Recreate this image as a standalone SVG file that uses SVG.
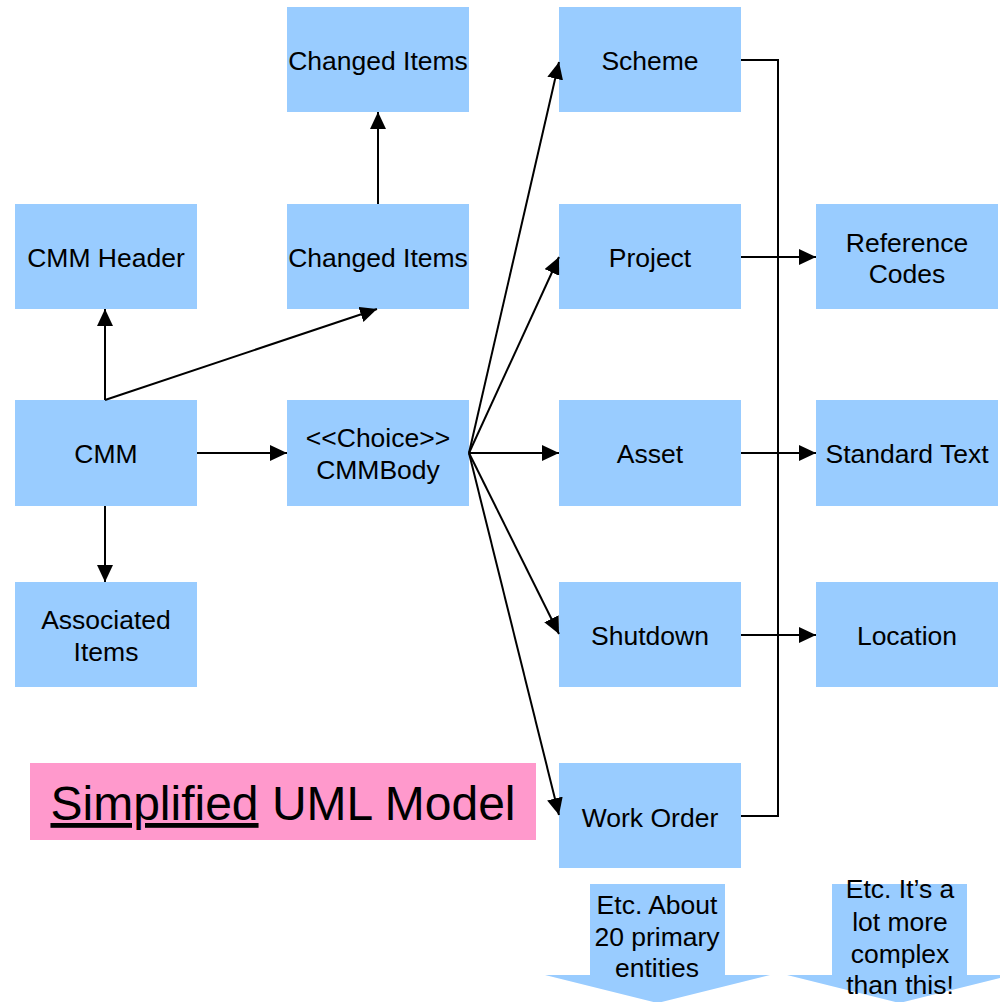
<svg xmlns="http://www.w3.org/2000/svg" width="1000" height="1002" viewBox="0 0 1000 1002">
  <defs>
    <style>
      .box { fill: #99CCFF; }
      .lbl { font-family: "Liberation Sans", Arial, sans-serif; font-size: 26.5px; fill: #000; text-anchor: middle; }
      .conn { stroke: #000; stroke-width: 2; fill: none; }
      .title { font-family: "Liberation Sans", Arial, sans-serif; font-size: 48px; fill: #000; text-anchor: middle; }
    </style>
    <marker id="arrow" markerUnits="userSpaceOnUse" markerWidth="17" markerHeight="16" refX="17" refY="8" orient="auto">
      <path d="M0,0 L17,8 L0,16 z" fill="#000"/>
    </marker>
  </defs>

  <rect x="0" y="0" width="1000" height="1002" fill="#fff"/>

  <!-- nodes -->
  <g id="node-changed-items-top">
    <rect class="box" x="287" y="7" width="182" height="105"/>
    <text class="lbl" x="378" y="70">Changed Items</text>
  </g>
  <g id="node-cmm-header">
    <rect class="box" x="15" y="204" width="182" height="105"/>
    <text class="lbl" x="106" y="267">CMM Header</text>
  </g>
  <g id="node-changed-items">
    <rect class="box" x="287" y="204" width="182" height="105"/>
    <text class="lbl" x="378" y="267">Changed Items</text>
  </g>
  <g id="node-cmm">
    <rect class="box" x="15" y="400" width="182" height="106"/>
    <text class="lbl" x="106" y="463">CMM</text>
  </g>
  <g id="node-cmmbody">
    <rect class="box" x="287" y="400" width="182" height="106"/>
    <text class="lbl" x="378" y="447">&lt;&lt;Choice&gt;&gt;</text>
    <text class="lbl" x="378" y="479">CMMBody</text>
  </g>
  <g id="node-associated-items">
    <rect class="box" x="15" y="582" width="182" height="105"/>
    <text class="lbl" x="106" y="629">Associated</text>
    <text class="lbl" x="106" y="661">Items</text>
  </g>
  <g id="node-scheme">
    <rect class="box" x="559" y="7" width="182" height="105"/>
    <text class="lbl" x="650" y="70">Scheme</text>
  </g>
  <g id="node-project">
    <rect class="box" x="559" y="204" width="182" height="105"/>
    <text class="lbl" x="650" y="267">Project</text>
  </g>
  <g id="node-asset">
    <rect class="box" x="559" y="400" width="182" height="106"/>
    <text class="lbl" x="650" y="463">Asset</text>
  </g>
  <g id="node-shutdown">
    <rect class="box" x="559" y="582" width="182" height="105"/>
    <text class="lbl" x="650" y="645">Shutdown</text>
  </g>
  <g id="node-work-order">
    <rect class="box" x="559" y="763" width="182" height="105"/>
    <text class="lbl" x="650" y="827">Work Order</text>
  </g>
  <g id="node-reference-codes">
    <rect class="box" x="816" y="204" width="182" height="105"/>
    <text class="lbl" x="907" y="252">Reference</text>
    <text class="lbl" x="907" y="283">Codes</text>
  </g>
  <g id="node-standard-text">
    <rect class="box" x="816" y="400" width="182" height="106"/>
    <text class="lbl" x="907" y="463">Standard Text</text>
  </g>
  <g id="node-location">
    <rect class="box" x="816" y="582" width="182" height="105"/>
    <text class="lbl" x="907" y="645">Location</text>
  </g>

  <!-- caption -->
  <g id="caption">
    <rect x="30" y="763" width="506" height="77" fill="#FF99CC"/>
    <text class="title" x="283" y="820"><tspan text-decoration="underline">Simplified</tspan> UML Model</text>
  </g>

  <!-- block arrows -->
  <g id="etc-entities">
    <path d="M590,884 L725,884 L725,975 L770,975 L657.5,1003 L545,975 L590,975 z" fill="#99CCFF"/>
    <text class="lbl" x="657" y="914">Etc. About</text>
    <text class="lbl" x="657" y="946">20 primary</text>
    <text class="lbl" x="657" y="977">entities</text>
  </g>
  <g id="etc-complex">
    <path d="M832,884 L967,884 L967,975 L1012,975 L899.5,1003 L787,975 L832,975 z" fill="#99CCFF"/>
    <text class="lbl" x="900" y="898">Etc. It’s a</text>
    <text class="lbl" x="900" y="931">lot more</text>
    <text class="lbl" x="900" y="963">complex</text>
    <text class="lbl" x="900" y="994">than this!</text>
  </g>

  <!-- connectors -->
  <g id="connectors">
    <line class="conn" x1="378" y1="204" x2="378" y2="112" marker-end="url(#arrow)"/>
    <line class="conn" x1="105" y1="400" x2="105" y2="309" marker-end="url(#arrow)"/>
    <line class="conn" x1="105" y1="400" x2="377" y2="309" marker-end="url(#arrow)"/>
    <line class="conn" x1="105" y1="506" x2="105" y2="582" marker-end="url(#arrow)"/>
    <line class="conn" x1="197" y1="453" x2="287" y2="453" marker-end="url(#arrow)"/>

    <line class="conn" x1="469" y1="453" x2="559" y2="62" marker-end="url(#arrow)"/>
    <line class="conn" x1="469" y1="453" x2="559" y2="257" marker-end="url(#arrow)"/>
    <line class="conn" x1="469" y1="453" x2="559" y2="453" marker-end="url(#arrow)"/>
    <line class="conn" x1="469" y1="453" x2="559" y2="634" marker-end="url(#arrow)"/>
    <line class="conn" x1="469" y1="453" x2="559" y2="815" marker-end="url(#arrow)"/>

    <polyline class="conn" points="741,60 778,60 778,816 741,816"/>
    <line class="conn" x1="741" y1="257" x2="816" y2="257" marker-end="url(#arrow)"/>
    <line class="conn" x1="741" y1="453" x2="816" y2="453" marker-end="url(#arrow)"/>
    <line class="conn" x1="741" y1="635" x2="816" y2="635" marker-end="url(#arrow)"/>
  </g>
</svg>
